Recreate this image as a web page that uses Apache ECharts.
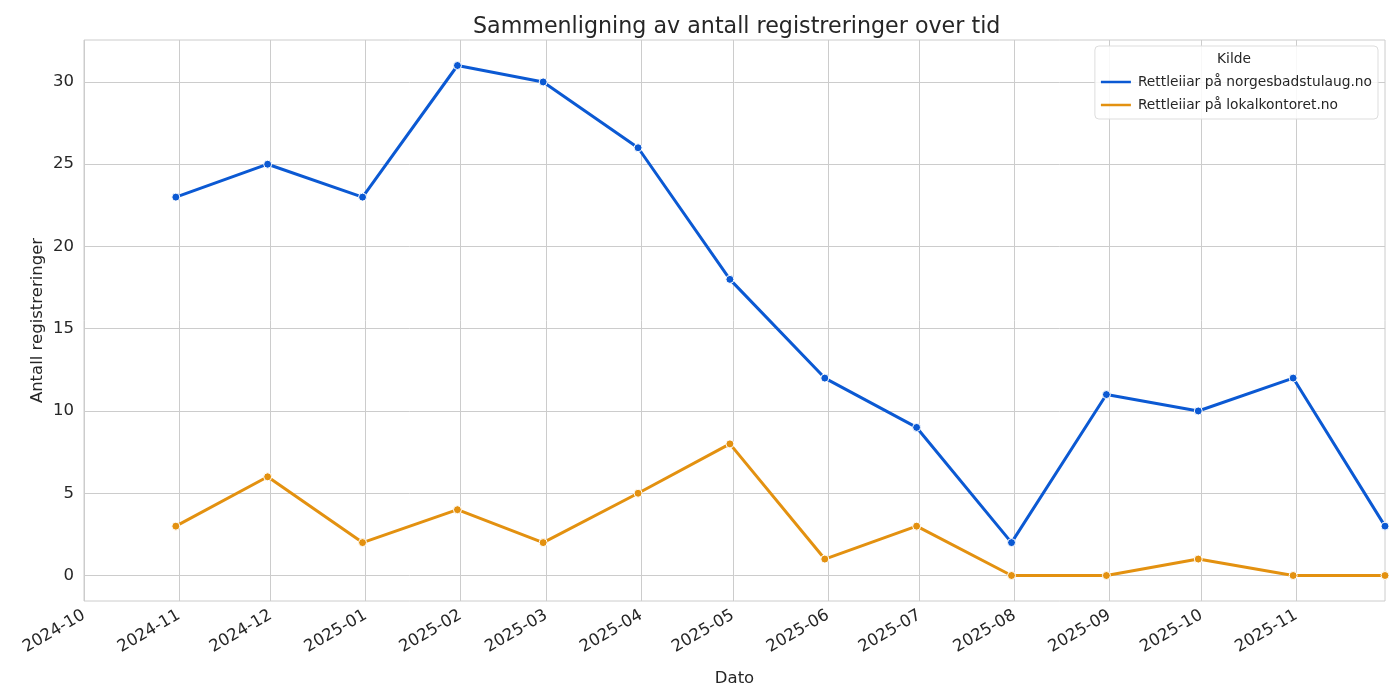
<!DOCTYPE html>
<html>
<head>
<meta charset="utf-8">
<script src="https://cdn.jsdelivr.net/npm/echarts@6/dist/echarts.min.js"></script>
<style>
  html, body { margin: 0; padding: 0; background: #fff; }
  #chart { width: 1400px; height: 700px; }
</style>
</head>
<body>
<div id="chart"></div>
<script>
// data
var dates = ['2024-10-31', '2024-11-30', '2024-12-31', '2025-01-31', '2025-02-28', '2025-03-31', '2025-04-30',
  '2025-05-31', '2025-06-30', '2025-07-31', '2025-08-31', '2025-09-30', '2025-10-31', '2025-11-30'];
var badstulag = [23, 25, 23, 31, 30, 26, 18, 12, 9, 2, 11, 10, 12, 3];
var lokalkontor = [3, 6, 2, 4, 2, 5, 8, 1, 3, 0, 0, 1, 0, 0];
var monthTicks = ['2024-10', '2024-11', '2024-12', '2025-01', '2025-02', '2025-03', '2025-04',
  '2025-05', '2025-06', '2025-07', '2025-08', '2025-09', '2025-10', '2025-11'];
var yTicks = [0, 5, 10, 15, 20, 25, 30];
var seriesNames = ['Rettleiiar på norgesbadstulaug.no', 'Rettleiiar på lokalkontoret.no'];
var colors = ['#0b59d3', '#e39110'];

function toTime(s) {
  var p = s.split('-');
  return new Date(+p[0], +p[1] - 1, p[2] ? +p[2] : 1).getTime();
}
function fmtMonth(v) {
  var d = new Date(v);
  var m = d.getMonth() + 1;
  return d.getFullYear() + '-' + (m < 10 ? '0' + m : m);
}

var txt = '#262626';
var font = 'DejaVu Sans';

function makeSeries(name, vals, color) {
  return {
    name: name,
    type: 'line',
    data: dates.map(function (d, i) { return [toTime(d), vals[i]]; }),
    symbol: 'circle',
    symbolSize: 8,
    showSymbol: true,
    clip: false,
    lineStyle: { width: 3, color: color },
    itemStyle: { color: color, borderColor: '#fff', borderWidth: 1 },
    emphasis: { disabled: true }
  };
}

var option = {
  animation: false,
  backgroundColor: '#fff',
  textStyle: { fontFamily: font },
  title: {
    text: 'Sammenligning av antall registreringer over tid',
    left: 468,
    top: 11,
    textStyle: { fontSize: 22.2, fontWeight: 'normal', color: txt, fontFamily: font }
  },
  grid: { left: 84, right: 15, top: 40, bottom: 99, show: true, borderColor: '#cccccc', borderWidth: 1 },
  legend: {
    orient: 'vertical',
    right: 22,
    top: 46,
    padding: [29, 6, 7, 6],
    itemGap: 9,
    itemWidth: 30,
    itemHeight: 2.5,
    icon: 'rect',
    backgroundColor: 'rgba(255,255,255,0.85)',
    borderColor: '#dddddd',
    borderWidth: 1,
    borderRadius: 4,
    itemStyle: { borderWidth: 0 },
    textStyle: { fontSize: 13.8, color: txt, fontFamily: font, padding: [0, 0, 0, 2] },
    data: seriesNames
  },
  graphic: [{
    type: 'text',
    z: 100,
    left: 1217,
    top: 52,
    style: { text: 'Kilde', fontSize: 13.8, fill: txt, fontFamily: font }
  }],
  xAxis: {
    type: 'value',
    min: toTime('2024-10-01'),
    max: toTime('2025-11-30'),
    name: 'Dato',
    nameLocation: 'middle',
    nameGap: 69,
    nameMoveOverlap: false,
    nameTextStyle: { fontSize: 16.5, color: txt },
    axisLine: { show: false },
    axisTick: { show: false, customValues: monthTicks.map(toTime) },
    axisLabel: {
      customValues: monthTicks.map(toTime),
      formatter: fmtMonth,
      rotate: 30,
      fontSize: 16.5,
      color: txt,
      margin: 13,
      showMaxLabel: true,
      showMinLabel: true
    },
    splitLine: { show: true, lineStyle: { color: '#cccccc', width: 1 } }
  },
  yAxis: {
    type: 'value',
    min: -1.55,
    max: 32.55,
    name: 'Antall registreringer',
    nameLocation: 'middle',
    nameGap: 38,
    nameMoveOverlap: false,
    nameTextStyle: { fontSize: 16.5, color: txt },
    axisLine: { show: false },
    axisTick: { show: false, customValues: yTicks },
    axisLabel: { customValues: yTicks, fontSize: 16.5, color: txt, margin: 10 },
    splitLine: { show: true, lineStyle: { color: '#cccccc', width: 1 } }
  },
  series: [
    makeSeries(seriesNames[0], badstulag, colors[0]),
    makeSeries(seriesNames[1], lokalkontor, colors[1])
  ]
};

var myChart = echarts.init(document.getElementById('chart'));
myChart.setOption(option);
</script>
</body>
</html>
